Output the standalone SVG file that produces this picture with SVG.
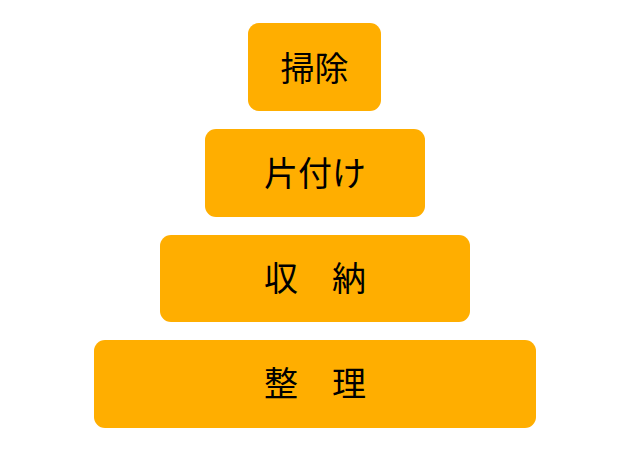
<svg xmlns="http://www.w3.org/2000/svg" width="620" height="464" viewBox="0 0 620 464">
<style>
.box{fill:#FFAE00;}
.lbl{font-family:"Noto Sans CJK JP","Noto Sans CJK SC",sans-serif;font-size:34px;fill:#000;text-anchor:middle;}
</style>
<rect width="620" height="464" fill="#fff"/>
<g id="connectors"></g>
<g id="node-soji">
<rect class="box" x="248" y="23" width="133" height="88" rx="11"/>
<text class="lbl" x="314.5" y="81">掃除</text>
</g>
<g id="node-katazuke">
<rect class="box" x="205" y="129" width="220" height="88" rx="11"/>
<text class="lbl" x="315" y="186">片付け</text>
</g>
<g id="node-shuno">
<rect class="box" x="160" y="235" width="310" height="87" rx="11"/>
<text class="lbl" x="315" y="291">収　納</text>
</g>
<g id="node-seiri">
<rect class="box" x="94" y="340" width="442" height="88" rx="11"/>
<text class="lbl" x="315" y="396">整　理</text>
</g>
</svg>
